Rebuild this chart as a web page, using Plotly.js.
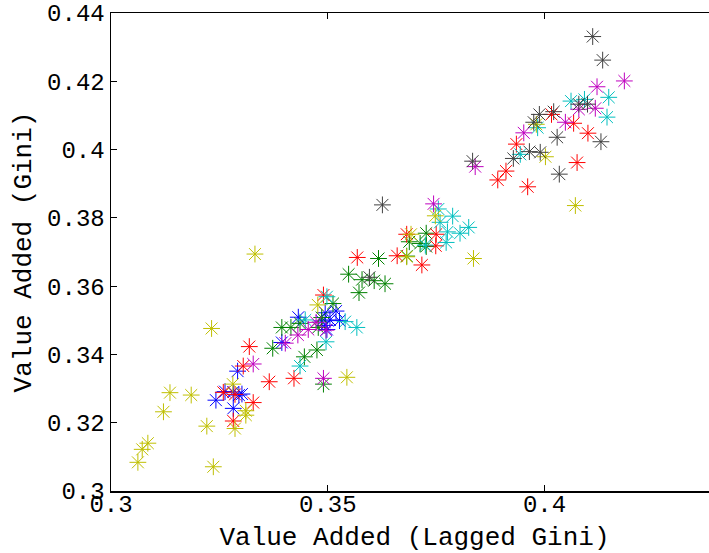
<!DOCTYPE html>
<html>
<head>
<meta charset="utf-8">
<script src="https://cdn.plot.ly/plotly-3.0.1.min.js"></script>
<style>
html,body{margin:0;padding:0;overflow:hidden;background:#fff;}
#chart{width:730px;height:553px;}
</style>
</head>
<body>
<div id="chart"></div>
<script>
// Series: lagged Gini (x) vs Gini (y), one series per colour
const blueX = [0.3292,0.3242,0.3263,0.3282,0.3302,0.3282,0.3394,0.3432,0.3494,0.3519,0.3505,0.3527,0.3498,0.3486,0.3494,0.3295];
const blueY = [0.3351,0.3266,0.3291,0.3290,0.3284,0.3242,0.3435,0.3509,0.3522,0.3527,0.3501,0.3499,0.3473,0.3498,0.3485,0.3281];

const greenX = [0.3373,0.3394,0.3415,0.3436,0.3478,0.3446,0.3475,0.3490,0.3512,0.3486,0.3548,0.3579,0.3607,0.3632,0.3572,0.3617,0.3682,0.3713,0.3727,0.3727,0.3688];
const greenY = [0.3418,0.3479,0.3479,0.3491,0.3479,0.3393,0.3413,0.3313,0.3549,0.3508,0.3635,0.3619,0.3616,0.3607,0.3581,0.3681,0.3688,0.3725,0.3755,0.3716,0.3730];

const redX = [0.3305,0.3259,0.3286,0.3328,0.3282,0.3319,0.3365,0.3422,0.3490,0.3568,0.3660,0.3717,0.3749,0.3750,0.3682,0.3892,0.3911,0.3935,0.3961,0.4016,0.4067,0.4100,0.4075];
const redY = [0.3366,0.3289,0.3283,0.3259,0.3205,0.3423,0.3320,0.3330,0.3574,0.3684,0.3689,0.3662,0.3718,0.3752,0.3752,0.3911,0.3937,0.4016,0.3891,0.4103,0.4077,0.4048,0.3962];

const cyanX = [0.3498,0.3448,0.3540,0.3496,0.3436,0.3567,0.3725,0.3755,0.3759,0.3788,0.3825,0.3805,0.3776,0.3773,0.3984,0.3944,0.4061,0.4092,0.4148,0.4144];
const cyanY = [0.3569,0.3501,0.3496,0.3437,0.3366,0.3479,0.3720,0.3826,0.3787,0.3805,0.3772,0.3755,0.3759,0.3728,0.4064,0.3986,0.4142,0.4147,0.4153,0.4095];

const magentaX = [0.3328,0.3431,0.3402,0.3455,0.3473,0.3490,0.3496,0.3744,0.3840,0.3952,0.4048,0.4079,0.4117,0.4121,0.4184];
const magentaY = [0.3372,0.3457,0.3433,0.3473,0.3494,0.3330,0.3471,0.3841,0.3950,0.4049,0.4080,0.4118,0.4121,0.4184,0.4201];

const yellowX = [0.3136,0.3185,0.3121,0.3085,0.3072,0.3062,0.3221,0.3236,0.3281,0.3311,0.3311,0.3286,0.3232,0.3544,0.3477,0.3332,0.3748,0.3692,0.3682,0.3836,0.3981,0.4002,0.4071];
const yellowY = [0.3288,0.3281,0.3232,0.3140,0.3122,0.3084,0.3190,0.3071,0.3313,0.3235,0.3222,0.3183,0.3476,0.3333,0.3545,0.3694,0.3806,0.3752,0.3686,0.3681,0.4074,0.3979,0.3836];

const blackX = [0.3626,0.3596,0.3834,0.3928,0.3965,0.3990,0.4029,0.4034,0.3975,0.3988,0.4021,0.4130,0.4099,0.4079,0.4111,0.4134];
const blackY = [0.3838,0.3626,0.3966,0.3974,0.3994,0.3992,0.4036,0.3928,0.4080,0.4103,0.4111,0.4023,0.4133,0.4133,0.4331,0.4262];

const xTicks = [0.3,0.35,0.4];
const xTickText = ['0.3','0.35','0.4'];
const yTicks = [0.3,0.32,0.34,0.36,0.38,0.4,0.42,0.44];
const yTickText = ['0.3','0.32','0.34','0.36','0.38','0.4','0.42','0.44'];

const series = [
  {x: blueX, y: blueY, color: 'rgb(0,0,255)'},
  {x: greenX, y: greenY, color: 'rgb(0,128,0)'},
  {x: redX, y: redY, color: 'rgb(255,0,0)'},
  {x: cyanX, y: cyanY, color: 'rgb(0,191,191)'},
  {x: magentaX, y: magentaY, color: 'rgb(191,0,191)'},
  {x: yellowX, y: yellowY, color: 'rgb(191,191,0)'},
  {x: blackX, y: blackY, color: 'rgb(64,64,64)'}
];

const traces = series.map(s => ({
  type: 'scatter', mode: 'markers', x: s.x, y: s.y,
  marker: {symbol: 'asterisk-open', size: 14, color: s.color, line: {width: 1, color: s.color}},
  hoverinfo: 'x+y', showlegend: false
}));

const FONT = '"Liberation Mono", "Courier New", monospace';
const layout = {
  width: 730, height: 553,
  margin: {l: 111, r: 12, t: 13, b: 62},
  paper_bgcolor: '#fff', plot_bgcolor: '#fff',
  font: {family: FONT, color: '#000', size: 24},
  xaxis: {
    range: [0.3, 0.44], tickvals: xTicks, ticktext: xTickText,
    ticks: 'inside', ticklen: 6, tickwidth: 1, tickcolor: '#000',
    showline: true, linecolor: '#000', linewidth: 1.5, mirror: 'ticks',
    showgrid: false, zeroline: false, ticklabelstandoff: -9,
    tickfont: {family: FONT, size: 24, color: '#000'},
    title: {text: 'Value Added (Lagged Gini)', font: {family: FONT, size: 26, color: '#000'}, standoff: 10}
  },
  yaxis: {
    range: [0.3, 0.44], tickvals: yTicks, ticktext: yTickText,
    ticks: 'inside', ticklen: 6, tickwidth: 1, tickcolor: '#000',
    showline: true, linecolor: '#000', linewidth: 1.5, mirror: 'ticks',
    showgrid: false, zeroline: false,
    tickfont: {family: FONT, size: 24, color: '#000'},
    title: {text: 'Value Added (Gini)', font: {family: FONT, size: 26, color: '#000'}, standoff: 8}
  }
};

Plotly.newPlot('chart', traces, layout, {displayModeBar: false, staticPlot: true});
</script>
</body>
</html>
